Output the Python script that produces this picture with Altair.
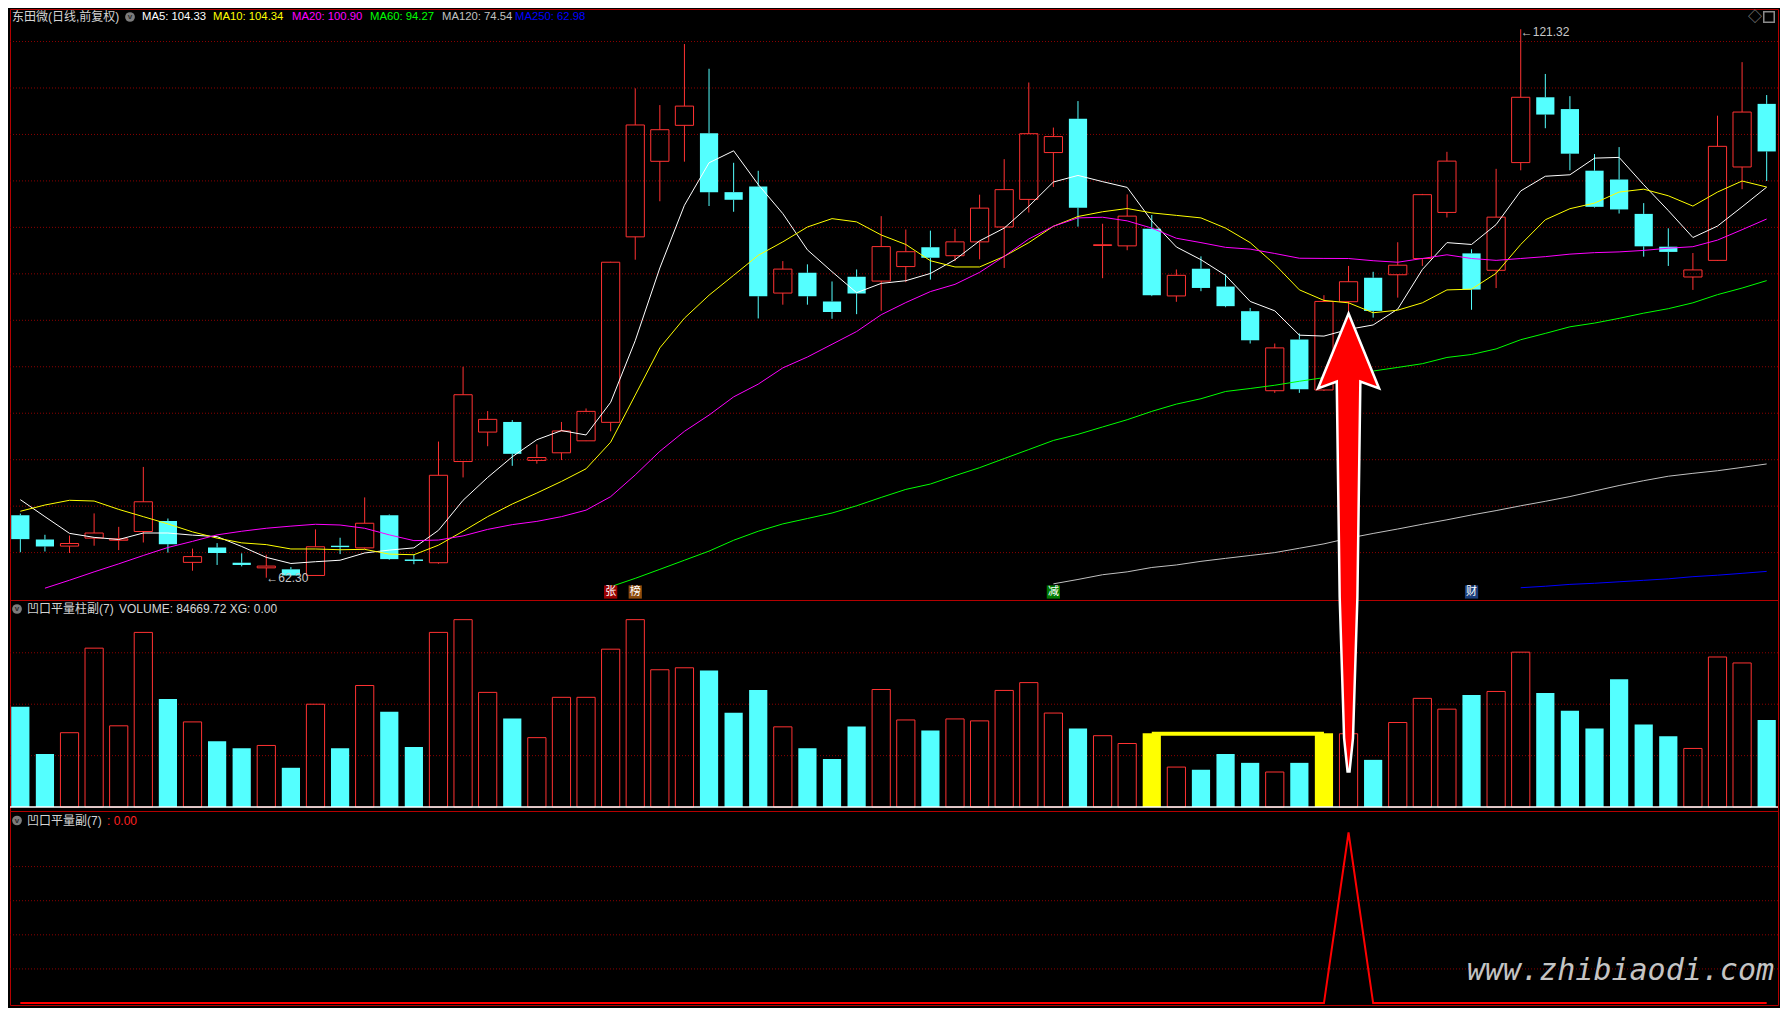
import altair as alt
import pandas as pd

# ---------------- data ----------------
opens = [69.02, 66.41, 65.70, 66.56, 66.33, 67.27, 68.40, 63.95, 65.55, 63.91,
         63.36, 63.20, 62.54, 65.74, 65.51, 69.02, 64.26, 63.91, 74.80, 77.97,
         79.06, 74.92, 75.74, 77.03, 79.02, 98.98, 107.11, 110.98, 110.12, 103.79,
         104.41, 92.93, 95.12, 92.03, 94.69, 94.22, 95.78, 97.85, 96.95, 98.44,
         100.04, 103.01, 108.05, 111.68, 98.05, 98.01, 99.84, 92.62, 95.55, 93.63,
         90.98, 82.42, 87.93, 82.50, 92.00, 94.58, 94.90, 96.65, 101.61, 97.20,
         95.38, 106.97, 114.00, 112.73, 106.10, 105.15, 101.45, 97.92, 94.66, 96.45,
         106.50, 113.29]
highs = [69.20, 66.92, 66.84, 69.22, 67.77, 74.22, 68.67, 65.43, 66.02, 64.92,
         64.77, 63.44, 67.50, 66.60, 70.94, 69.10, 64.80, 76.95, 85.00, 80.23,
         79.26, 76.64, 79.06, 80.51, 96.30, 114.96, 113.16, 119.73, 117.07, 106.95,
         106.09, 96.37, 96.02, 94.18, 95.47, 101.21, 99.77, 99.65, 99.84, 103.52,
         107.34, 115.59, 110.74, 113.59, 100.39, 103.55, 101.33, 95.47, 96.88, 94.96,
         91.33, 87.50, 88.59, 92.70, 95.85, 95.22, 98.40, 103.60, 108.13, 97.64,
         106.30, 121.32, 116.51, 114.12, 107.89, 108.64, 102.61, 99.90, 97.24, 112.02,
         117.78, 114.24]
lows = [65.04, 65.12, 64.96, 65.74, 65.27, 66.09, 65.00, 63.05, 63.67, 63.52,
        62.30, 62.45, 62.50, 64.84, 65.40, 64.22, 63.75, 63.80, 73.09, 76.45,
        74.34, 74.57, 74.96, 77.00, 78.05, 96.52, 102.81, 107.07, 102.30, 101.68,
        90.20, 91.68, 91.68, 90.16, 90.66, 91.02, 94.10, 94.38, 96.37, 96.56,
        95.63, 101.60, 104.34, 100.08, 94.53, 97.54, 92.60, 91.99, 93.13, 91.41,
        87.50, 82.19, 82.19, 82.40, 90.69, 90.29, 92.44, 95.85, 101.06, 91.13,
        93.47, 106.14, 110.67, 106.14, 102.13, 101.49, 96.85, 95.85, 93.27, 96.40,
        104.11, 104.99]
closes = [66.45, 65.66, 65.98, 67.11, 66.48, 70.47, 65.90, 64.57, 64.96, 63.67,
          63.55, 62.54, 65.63, 65.59, 68.16, 64.30, 64.10, 73.32, 81.99, 79.34,
          75.63, 75.23, 78.09, 80.20, 96.25, 111.02, 110.51, 113.05, 103.79, 102.97,
          92.58, 95.51, 92.58, 90.90, 92.89, 97.93, 97.38, 96.72, 98.44, 102.07,
          104.06, 110.08, 109.77, 102.11, 98.13, 101.21, 92.70, 94.84, 93.48, 91.52,
          87.85, 87.03, 82.58, 92.03, 94.15, 91.01, 95.93, 103.52, 107.13, 93.31,
          101.10, 114.00, 112.14, 107.93, 102.21, 101.93, 97.96, 97.36, 95.42, 108.72,
          112.41, 108.17]
volumes = [97460, 51600, 72300, 154500, 79000, 169800, 105100, 82800, 64000, 57300,
           59900, 38200, 100000, 57300, 118200, 92700, 58300, 169800, 182200, 111500,
           86000, 67500, 106700, 106700, 153500, 182200, 133500, 135400, 132800, 91700,
           113700, 78000, 57300, 46800, 78400, 114300, 84700, 74500, 85700, 83800,
           113400, 121000, 91400, 76400, 69400, 61800, 71700, 38900, 36300, 51600,
           43000, 34100, 43000, 71700, 71300, 45900, 82200, 105700, 95200, 108900,
           112400, 150600, 110800, 93600, 76400, 124200, 80300, 68800, 57000, 145900,
           140100, 84669.72]
ma5 = [70.70, 68.87, 67.07, 66.64, 66.41, 67.11, 67.11, 66.88, 66.72, 65.66,
       64.49, 63.83, 64.02, 64.18, 64.96, 65.27, 65.51, 67.40, 70.63, 73.09,
       75.31, 77.15, 78.13, 77.66, 81.17, 87.81, 95.63, 102.38, 106.95, 108.24,
       104.61, 101.48, 97.58, 95.23, 92.97, 93.97, 94.26, 95.04, 96.52, 98.55,
       99.92, 102.27, 104.88, 105.59, 104.92, 104.30, 100.70, 97.89, 96.52, 94.84,
       92.03, 91.02, 88.40, 88.30, 89.02, 89.50, 91.21, 95.46, 98.36, 98.16,
       100.30, 103.92, 105.50, 105.66, 107.45, 107.53, 104.59, 101.81, 98.91, 100.14,
       102.21, 104.33]
ma10 = [69.45, 70.12, 70.63, 70.55, 69.65, 68.87, 68.09, 67.23, 66.56, 66.05,
        65.86, 65.39, 65.39, 65.31, 65.35, 64.84, 64.77, 65.80, 67.30, 68.87,
        70.23, 71.41, 72.66, 74.02, 76.88, 81.95, 87.03, 90.23, 92.70, 94.84,
        96.99, 98.44, 100.04, 100.94, 100.59, 99.18, 98.16, 96.41, 95.74, 95.74,
        96.88, 98.36, 100.12, 101.17, 101.68, 102.03, 101.56, 101.29, 101.02, 99.92,
        98.36, 96.02, 93.28, 92.14, 91.88, 90.81, 91.09, 91.88, 93.27, 93.35,
        95.06, 98.16, 100.82, 102.01, 102.61, 103.80, 104.11, 103.40, 102.29, 103.80,
        104.99, 104.34]
ma20 = [None, 61.17, 62.03, 62.93, 63.79, 64.69, 65.55, 66.21, 66.91, 67.30,
        67.62, 67.85, 68.05, 67.97, 67.62, 66.91, 66.29, 66.35, 66.80, 67.50,
        68.01, 68.36, 68.87, 69.57, 71.02, 73.36, 75.90, 78.05, 79.80, 81.76,
        83.13, 84.88, 86.05, 87.42, 88.79, 90.60, 91.91, 93.09, 93.87, 95.16,
        96.88, 98.75, 100.12, 101.02, 101.09, 100.70, 99.92, 98.83, 98.36, 97.85,
        97.66, 97.19, 96.68, 96.66, 96.65, 96.41, 96.25, 96.65, 97.05, 96.65,
        96.45, 96.65, 96.85, 97.12, 97.28, 97.36, 97.52, 97.76, 97.92, 98.63,
        99.75, 100.90]
ma60 = [None] * 24 + [
        61.33, 62.23, 63.20, 64.18, 65.16, 66.33, 67.30, 68.09, 68.67, 69.26,
        70.04, 70.94, 71.80, 72.38, 73.28, 74.14, 75.12, 76.09, 77.07, 77.73,
        78.52, 79.30, 80.20, 80.98, 81.56, 82.34, 82.66, 83.01, 83.44, 83.83,
        84.20, 84.54, 84.93, 85.33, 86.00, 86.32, 86.92, 87.91, 88.59, 89.30,
        89.70, 90.21, 90.77, 91.25, 91.88, 92.76, 93.47, 94.27]
ma120 = [None] * 42 + [
        61.64, 62.11, 62.62, 62.93, 63.40, 63.67, 64.06, 64.38, 64.69, 65.00,
        65.47, 65.94, 66.55, 67.06, 67.54, 68.05, 68.53, 69.05, 69.52, 70.04,
        70.52, 71.03, 71.63, 72.22, 72.74, 73.22, 73.53, 73.81, 74.17, 74.54]
ma250 = [None] * 61 + [
        61.22, 61.38, 61.58, 61.70, 61.86, 62.02, 62.18, 62.41, 62.57, 62.77, 62.98]
signal = [0, 0, 0, 0, 0, 0, 0, 0, 0, 0, 0, 0, 0, 0, 0, 0, 0, 0, 0, 0,
          0, 0, 0, 0, 0, 0, 0, 0, 0, 0, 0, 0, 0, 0, 0, 0, 0, 0, 0, 0,
          0, 0, 0, 0, 0, 0, 0, 0, 0, 0, 0, 0, 0, 0, 1, 0, 0, 0, 0, 0,
          0, 0, 0, 0, 0, 0, 0, 0, 0, 0, 0, 0]

ma_names = ["MA5", "MA10", "MA20", "MA60", "MA120", "MA250"]
ma_series = [ma5, ma10, ma20, ma60, ma120, ma250]
ma_colors = ["#ffffff", "#ffff00", "#ff00ff", "#00ff00", "#c0c0c0", "#0000ff"]

price_grid = [65, 70, 75, 80, 85, 90, 95, 100, 105, 110, 115, 120]
vol_grid = [50000, 100000, 150000]
sig_grid = [0.2, 0.4, 0.6, 0.8]

notch_bars = [46, 53]
notch_level = 71400
signal_day = 54
arrow_mid = 257150

tags = ["张", "榜", "减", "财"]
tag_idx = [24, 25, 42, 59]
tag_colors = ["#9a0000", "#8b4a0b", "#007a00", "#1a3d7a"]

# ---------------- styling / layout ----------------
FONT = "Liberation Sans, Noto Sans CJK SC"
RED = "#ff3232"
CYAN = "#54ffff"
YELLOW = "#ffff00"
GRIDC = "#8c0000"
W = 1768
H1, H2, H3 = 591, 211, 194
BW = 0.37

XS = alt.Scale(domain=[-0.42, 71.46], nice=False, zero=False)
YP = alt.Scale(domain=[59.9, 123.5], nice=False, zero=False)
YV = alt.Scale(domain=[-3800, 201300], nice=False, zero=False)
YS = alt.Scale(domain=[-0.0115, 1.126], nice=False, zero=False)

n = len(opens)
cd = pd.DataFrame({
    "i": list(range(n)),
    "o": opens, "h": highs, "l": lows, "c": closes, "v": volumes,
})
cd["x1"] = cd["i"] - BW
cd["x2"] = cd["i"] + BW
cd["z"] = 0.0
cd["top"] = cd[["o", "c"]].max(axis=1)
cd["bot"] = cd[["o", "c"]].min(axis=1)
cd["d"] = ["up" if c >= o else "down" for o, c in zip(opens, closes)]
cd["hl"] = ["y" if i in notch_bars else "n" for i in range(n)]


def label(text, px, py, color, size=12, **kw):
    return alt.Chart(pd.DataFrame({"t": [text]})).mark_text(
        align="left", baseline="middle", fontSize=size, font=FONT, color=color, **kw
    ).encode(x=alt.value(px), y=alt.value(py), text="t:N")


def icon(px, py):
    c = alt.Chart(pd.DataFrame({"a": [0]})).mark_circle(
        size=95, color="#7c7c7c", opacity=1).encode(x=alt.value(px), y=alt.value(py))
    v = alt.Chart(pd.DataFrame({"t": ["v"]})).mark_text(
        align="center", baseline="middle", fontSize=8, fontWeight="bold",
        font=FONT, color="#2c2c2c").encode(x=alt.value(px), y=alt.value(py), text="t:N")
    return [c, v]


def grid(values, scale):
    return alt.Chart(pd.DataFrame({"g": values})).mark_rule(
        color=GRIDC, strokeDash=[1, 2], strokeWidth=1
    ).encode(y=alt.Y("g:Q", scale=scale, axis=None))


X = alt.X("i:Q", scale=XS, axis=None)
X1 = alt.X("x1:Q", scale=XS, axis=None)

# ---------------- top panel ----------------
base = alt.Chart(cd)
layers = [grid(price_grid, YP)]
for d, col in [("up", RED), ("down", CYAN)]:
    sub = base.transform_filter(f"datum.d == '{d}'")
    layers.append(sub.mark_rule(color=col, strokeWidth=1).encode(
        x=X, y=alt.Y("top:Q", scale=YP, axis=None), y2="h:Q"))
    layers.append(sub.mark_rule(color=col, strokeWidth=1).encode(
        x=X, y=alt.Y("l:Q", scale=YP, axis=None), y2="bot:Q"))
layers.append(base.transform_filter("datum.d == 'down'").mark_rect(color=CYAN).encode(
    x=X1, x2="x2:Q", y=alt.Y("top:Q", scale=YP, axis=None), y2="bot:Q"))
layers.append(base.transform_filter("datum.d == 'up'").mark_rect(
    filled=False, color=RED, strokeWidth=1).encode(
    x=X1, x2="x2:Q", y=alt.Y("top:Q", scale=YP, axis=None), y2="bot:Q"))

for name, arr, col in zip(ma_names, ma_series, ma_colors):
    df = pd.DataFrame({"i": [i for i, v in enumerate(arr) if v is not None],
                       "v": [v for v in arr if v is not None]})
    layers.append(alt.Chart(df).mark_line(color=col, strokeWidth=1).encode(
        x=X, y=alt.Y("v:Q", scale=YP, axis=None)))

lo_i = lows.index(min(lows))
hi_i = highs.index(max(highs))
ext = pd.DataFrame({"i": [lo_i, hi_i], "p": [min(lows), max(highs) - 0.25],
                    "t": [f"←{min(lows):.2f}", f"←{max(highs):.2f}"]})
layers.append(alt.Chart(ext).mark_text(
    align="left", baseline="middle", fontSize=12, font=FONT, color="#c8c8c8").encode(
    x=X, y=alt.Y("p:Q", scale=YP, axis=None), text="t:N"))

tagdf = pd.DataFrame({"i": tag_idx, "t": tags, "c": tag_colors})
layers.append(alt.Chart(tagdf).mark_square(size=175, opacity=1).encode(
    x=X, y=alt.value(583), color=alt.Color("c:N", scale=None)))
layers.append(alt.Chart(tagdf).mark_text(
    fontSize=11, font=FONT, color="#ffffff", baseline="middle").encode(
    x=X, y=alt.value(583), text="t:N"))

layers.append(label("东田微(日线,前复权)", 2, 8, "#d4d4d4"))
for name, arr, col, px in zip(ma_names, ma_series, ma_colors,
                              [132, 203, 282, 360, 432, 505]):
    layers.append(label(f"{name}: {arr[-1]:.2f}", px, 8, col, size=11.3))
layers += icon(120, 8)
layers.append(label("◇", 1738, 8, "#8a8a8a", size=14))
layers.append(alt.Chart(pd.DataFrame({"a": [0]})).mark_point(
    shape="square", size=110, filled=False, color="#8a8a8a", opacity=1, strokeWidth=1.5).encode(
    x=alt.value(1759), y=alt.value(8)))

top = alt.layer(*layers).properties(width=W, height=H1)

# ---------------- volume panel ----------------
vl = [grid(vol_grid, YV)]
vbase = alt.Chart(cd)
vl.append(vbase.transform_filter("datum.d == 'down' && datum.hl == 'n'").mark_rect(color=CYAN).encode(
    x=X1, x2="x2:Q", y=alt.Y("v:Q", scale=YV, axis=None), y2="z:Q"))
vl.append(vbase.transform_filter("datum.d == 'up' && datum.hl == 'n'").mark_rect(
    filled=False, color=RED, strokeWidth=1).encode(
    x=X1, x2="x2:Q", y=alt.Y("v:Q", scale=YV, axis=None), y2="z:Q"))
vl.append(vbase.transform_filter("datum.hl == 'y'").mark_rect(color=YELLOW).encode(
    x=X1, x2="x2:Q", y=alt.Y("v:Q", scale=YV, axis=None), y2="z:Q"))
vl.append(alt.Chart(pd.DataFrame({"a": [notch_bars[0]], "b": [notch_bars[1]], "v": [notch_level]}))
          .mark_rule(color=YELLOW, strokeWidth=4).encode(
    x=alt.X("a:Q", scale=XS, axis=None), x2="b:Q", y=alt.Y("v:Q", scale=YV, axis=None)))
vl.append(alt.Chart(pd.DataFrame({"z": [0.0]})).mark_rule(color="#ffffff", strokeWidth=1.5).encode(
    y=alt.Y("z:Q", scale=YV, axis=None)))
ARROW = ("M0,-1L0.1333,-0.6731L0.0516,-0.7032L0.0387,0.2387L0.0194,0.854L0.0043,1"
         "L-0.0043,1L-0.0194,0.854L-0.0387,0.2387L-0.0516,-0.7032L-0.1333,-0.6731Z")
vl.append(alt.Chart(pd.DataFrame({"i": [signal_day], "v": [arrow_mid]})).mark_point(
    shape=ARROW, size=458 * 458, filled=True, fill="#ff0000", stroke="#ffffff",
    strokeWidth=2.5, opacity=1).encode(x=X, y=alt.Y("v:Q", scale=YV, axis=None)))
vl += icon(7, 9)
vl.append(label("凹口平量柱副(7)", 17, 9, "#d4d4d4"))
vl.append(label(f"VOLUME: {volumes[-1]:.2f} XG: {signal[-1]:.2f}", 109, 9, "#d4d4d4"))
vol = alt.layer(*vl).properties(width=W, height=H2)

# ---------------- indicator panel ----------------
sd = pd.DataFrame({"i": list(range(n)), "s": signal})
il = [grid(sig_grid, YS)]
il.append(alt.Chart(sd).mark_line(color="#ff0000", strokeWidth=2).encode(
    x=X, y=alt.Y("s:Q", scale=YS, axis=None)))
il += icon(7, 9.5)
il.append(label("凹口平量副(7)", 17, 9.5, "#d4d4d4"))
il.append(label(f": {signal[-1]:.2f}", 97, 9.5, "#ff2020"))
il.append(alt.Chart(pd.DataFrame({"t": ["www.zhibiaodi.com"]})).mark_text(
    align="left", baseline="middle", fontSize=30, font="DejaVu Sans Mono",
    fontStyle="italic", color="#c4c4c4").encode(
    x=alt.value(1457), y=alt.value(160), text="t:N"))
ind = alt.layer(*il).properties(width=W, height=H3)

chart = alt.vconcat(top, vol, ind, spacing=0, bounds="flush").properties(
    padding=0
).configure(background="#000000").configure_view(stroke="#b40000", strokeWidth=1)

chart.save("out.html", embed_options={"renderer": "svg", "actions": False})
